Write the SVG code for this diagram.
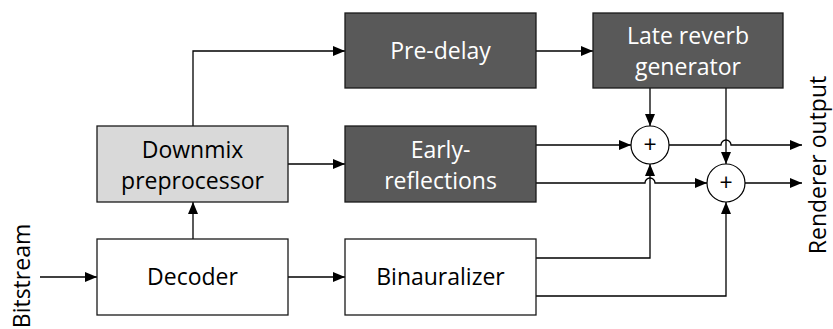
<svg xmlns="http://www.w3.org/2000/svg" width="833" height="329" viewBox="0 0 833 329">
<style>
.box{stroke:#1a1a1a;stroke-width:1.3}
.dark{fill:#595959}
.light{fill:#d9d9d9}
.white{fill:#ffffff}
text{font-family:"Open Sans","Liberation Sans",sans-serif;font-size:23px;text-anchor:middle}
.wt{fill:#ffffff}
.bt{fill:#000000}
.conn{fill:none;stroke:#000;stroke-width:1.3}
.sum{fill:#fff;stroke:#000;stroke-width:1.2}
</style>
<defs>
<marker id="ah" markerUnits="userSpaceOnUse" markerWidth="12" markerHeight="10" refX="12" refY="5" orient="auto">
<path d="M0,0 L12,5 L0,10 z" fill="#000"/>
</marker>
</defs>
<rect width="833" height="329" fill="#fff"/>
<g id="connectors" class="conn">
<path d="M40,277 H97" marker-end="url(#ah)"/>
<path d="M288,277 H345" marker-end="url(#ah)"/>
<path d="M193,239 V202" marker-end="url(#ah)"/>
<path d="M193,126 V51 H345" marker-end="url(#ah)"/>
<path d="M288,164 H345" marker-end="url(#ah)"/>
<path d="M536,51 H593" marker-end="url(#ah)"/>
<path d="M650,88 V126" marker-end="url(#ah)"/>
<path d="M726,88 V164" marker-end="url(#ah)"/>
<path d="M536,145 H631" marker-end="url(#ah)"/>
<path d="M536,183 H645 a5,5 0 0 1 10,0 H707" marker-end="url(#ah)"/>
<path d="M536,258 H650 V164" marker-end="url(#ah)"/>
<path d="M536,296 H726 V202" marker-end="url(#ah)"/>
<path d="M669,145 H721 a5,5 0 0 1 10,0 H802" marker-end="url(#ah)"/>
<path d="M745,183 H802" marker-end="url(#ah)"/>
</g>
<g id="predelay">
<rect class="box dark" x="345" y="13" width="191" height="75"/>
<text class="wt" x="440.5" y="59">Pre-delay</text>
</g>
<g id="latereverb">
<rect class="box dark" x="593" y="13" width="190" height="75"/>
<text class="wt" x="688" y="44">Late reverb</text>
<text class="wt" x="688" y="75">generator</text>
</g>
<g id="downmix">
<rect class="box light" x="97" y="126" width="191" height="76"/>
<text class="bt" x="192.5" y="158">Downmix</text>
<text class="bt" x="192.5" y="189">preprocessor</text>
</g>
<g id="early">
<rect class="box dark" x="345" y="126" width="191" height="76"/>
<text class="wt" x="440.5" y="158">Early-</text>
<text class="wt" x="440.5" y="189">reflections</text>
</g>
<g id="decoder">
<rect class="box white" x="97" y="239" width="191" height="76"/>
<text class="bt" x="192.5" y="285">Decoder</text>
</g>
<g id="binauralizer">
<rect class="box white" x="345" y="239" width="191" height="76"/>
<text class="bt" x="440.5" y="285">Binauralizer</text>
</g>
<g id="sum1">
<circle class="sum" cx="650" cy="145" r="19"/>
<text class="bt" x="650" y="153">+</text>
</g>
<g id="sum2">
<circle class="sum" cx="726" cy="183" r="19"/>
<text class="bt" x="726" y="191">+</text>
</g>
<g id="bitstream">
<text class="bt" transform="translate(30,276) rotate(-90)">Bitstream</text>
</g>
<g id="output">
<text class="bt" transform="translate(826,165) rotate(-90)">Renderer output</text>
</g>
</svg>
